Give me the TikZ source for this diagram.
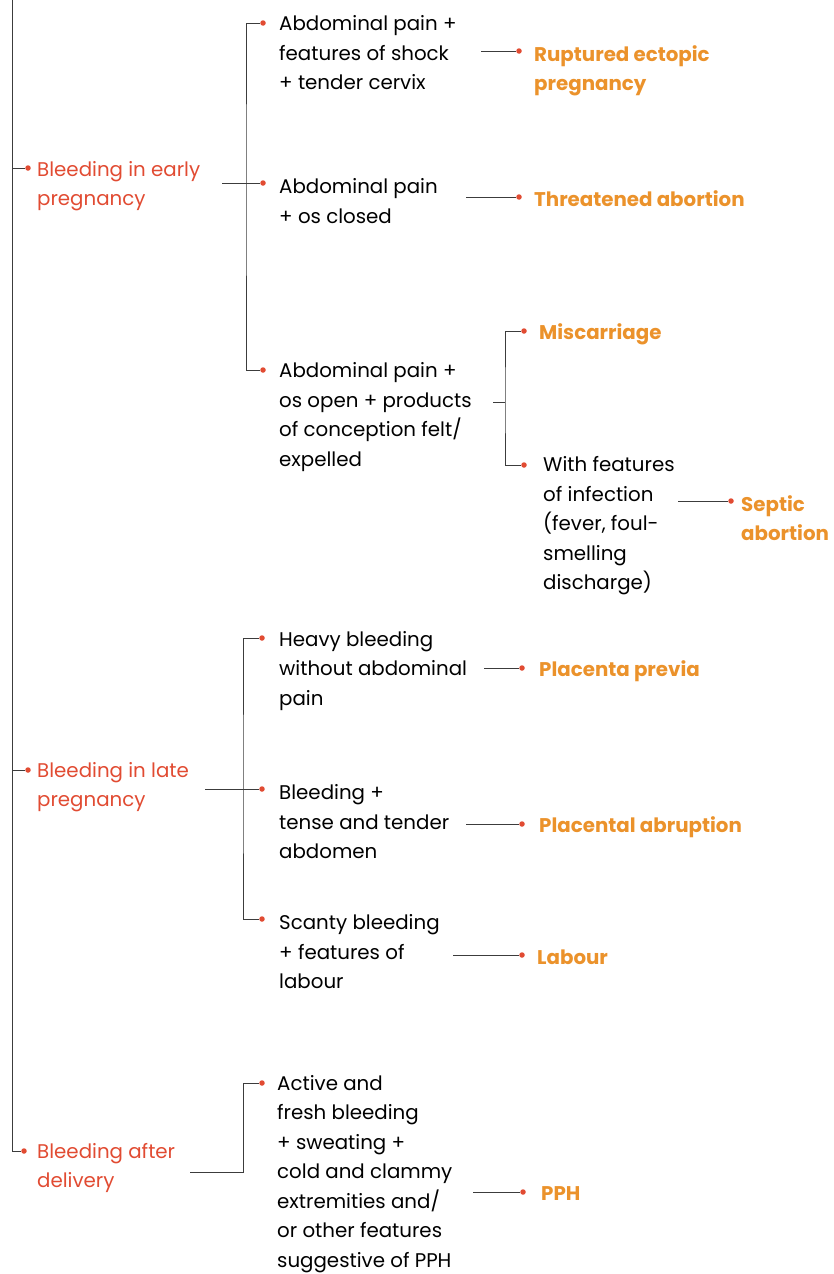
\documentclass[tikz,border=0pt]{standalone}
\usepackage{fontspec}
\setmainfont{Poppins}
\usetikzlibrary{positioning}

\definecolor{cause}{HTML}{E14B32}
\definecolor{result}{HTML}{EB922B}
\definecolor{wire}{HTML}{3C3C3C}

\tikzset{
  dot/.style={circle,fill=cause,inner sep=0pt,minimum size=5.5pt},
  sign/.style={anchor=west,inner sep=0pt,align=left,font=\fontsize{19.8}{29.5}\selectfont},
  group/.style={sign,text=cause},
  dx/.style={sign,text=result,font=\fontsize{19.8}{29.5}\selectfont\bfseries},
  wire/.style={draw=wire,line width=0.9pt}
}

\begin{document}
\begin{tikzpicture}[x=1pt,y=-1pt]
  \useasboundingbox (0,0) rectangle (834,1274);

  % main groups
  \coordinate (top) at (12,0);
  \node [group] (g1) at (37,186) {Bleeding in early\\pregnancy};
  \node [group] (g2) at (37,787) {Bleeding in late\\pregnancy};
  \node [group] (g3) at (37,1168) {Bleeding after\\delivery};
  \node [dot] (g1d) at (28,168) {};
  \node [dot] (g2d) at (28,770) {};
  \node [dot] (g3d) at (24,1151) {};
  \draw [wire] (top) |- (g3d);
  \draw [wire] (top |- g1d) -- (g1d);
  \draw [wire] (top |- g2d) -- (g2d);

  % early pregnancy
  \node [sign] (c1) at (279,53) {Abdominal pain +\\features of shock\\+ tender cervix};
  \node [sign] (c2) at (279,201) {Abdominal pain\\+ os closed};
  \node [sign] (c3) at (279,417) {Abdominal pain +\\os open + products\\of conception felt/\\expelled};
  \node [dot] (c1d) at (263,23) {};
  \node [dot] (c2d) at (263,183) {};
  \node [dot] (c3d) at (263,370) {};
  \coordinate (g1o) at (222,183);
  \coordinate (b1) at (246,183);
  \draw [wire] (g1o) -- (c2d);
  \draw [wire] (c1d) -| (b1) |- (c3d);

  \node [dx] (r1) at (534,71) {Ruptured ectopic\\pregnancy};
  \node [dx] (r2) at (534,199) {Threatened abortion};
  \node [dot] (r1d) at (519,51) {};
  \node [dot] (r2d) at (519,197) {};
  \coordinate (c1o) at (481,51);
  \coordinate (c2o) at (466,197);
  \draw [wire] (c1o) -- (r1d);
  \draw [wire] (c2o) -- (r2d);

  \node [dx] (m1) at (539,334) {Miscarriage};
  \node [sign] (c4) at (543,526) {With features\\of infection\\(fever, foul-\\smelling\\discharge)};
  \node [dot] (m1d) at (524,331) {};
  \node [dot] (c4d) at (524,465) {};
  \coordinate (c3o) at (493,402);
  \coordinate (b2) at (505,402);
  \draw [wire] (c3o) -- (b2);
  \draw [wire] (m1d) -| (b2) |- (c4d);

  \node [dx] (r4) at (741,518) {Septic\\abortion};
  \node [dot] (r4d) at (731,501) {};
  \coordinate (c4o) at (678,501);
  \draw [wire] (c4o) -- (r4d);

  % late pregnancy
  \node [sign] (c5) at (279,671) {Heavy bleeding\\without abdominal\\pain};
  \node [sign] (c6) at (279,822) {Bleeding +\\tense and tender\\abdomen};
  \node [sign] (c7) at (279,952) {Scanty bleeding\\+ features of\\labour};
  \node [dot] (c5d) at (262,638) {};
  \node [dot] (c6d) at (262,789) {};
  \node [dot] (c7d) at (262,919) {};
  \coordinate (g2o) at (205,789);
  \coordinate (b3) at (243,789);
  \draw [wire] (g2o) -- (c6d);
  \draw [wire] (c5d) -| (b3) |- (c7d);

  \node [dx] (r5) at (539,671) {Placenta previa};
  \node [dx] (r6) at (539,827) {Placental abruption};
  \node [dx] (r7) at (537,957) {Labour};
  \node [dot] (r5d) at (522,668) {};
  \node [dot] (r6d) at (522,824) {};
  \node [dot] (r7d) at (522,955) {};
  \coordinate (c5o) at (484,668);
  \coordinate (c6o) at (466,824);
  \coordinate (c7o) at (453,955);
  \draw [wire] (c5o) -- (r5d);
  \draw [wire] (c6o) -- (r6d);
  \draw [wire] (c7o) -- (r7d);

  % after delivery
  \node [sign] (c8) at (277,1174) {Active and\\fresh bleeding\\+ sweating +\\cold and clammy\\extremities and/\\or other features\\suggestive of PPH};
  \node [dot] (c8d) at (262,1083) {};
  \coordinate (g3o) at (190,1172);
  \draw [wire] (g3o) -| (243,1083) -- (c8d);

  \node [dx] (r8) at (541,1194) {PPH};
  \node [dot] (r8d) at (523,1192) {};
  \coordinate (c8o) at (473,1192);
  \draw [wire] (c8o) -- (r8d);
\end{tikzpicture}
\end{document}
